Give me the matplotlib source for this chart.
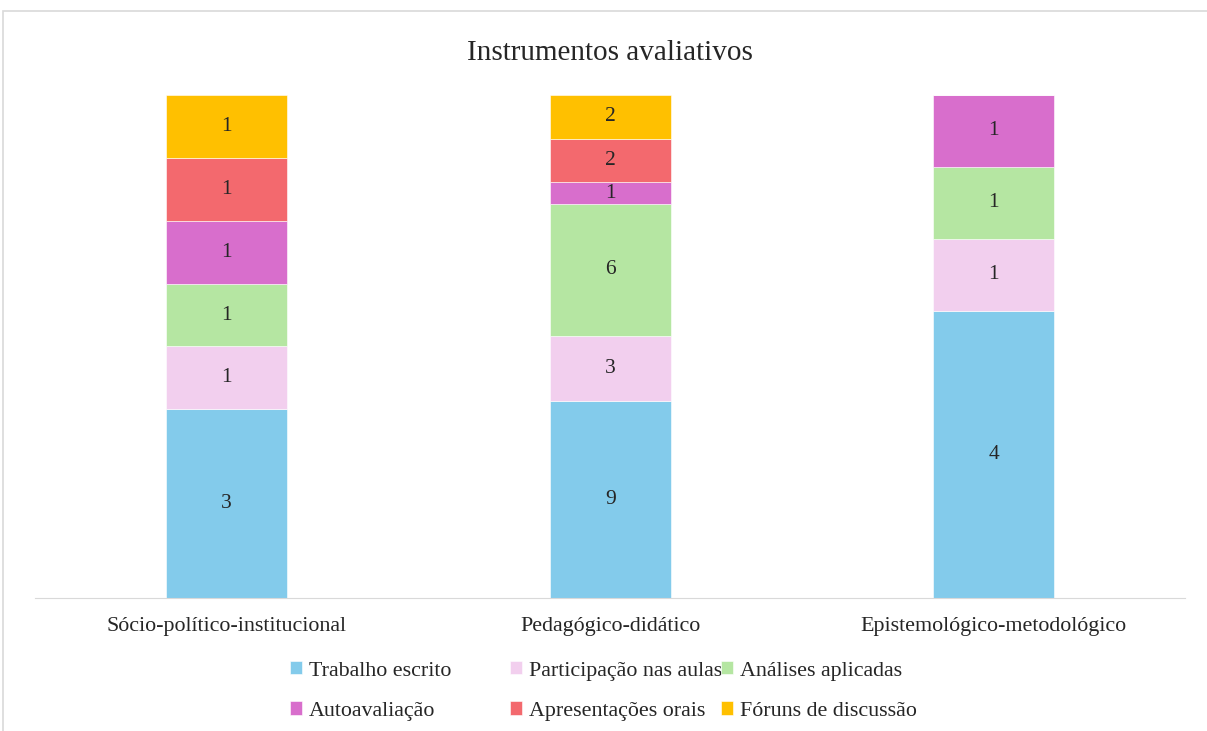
import matplotlib.pyplot as plt
from matplotlib.patches import Rectangle

plt.rcParams['font.family'] = ['Liberation Serif', 'DejaVu Serif']

categorias = ["Sócio-político-institucional", "Pedagógico-didático", "Epistemológico-metodológico"]
series = ["Trabalho escrito", "Participação nas aulas", "Análises aplicadas",
          "Autoavaliação", "Apresentações orais", "Fóruns de discussão"]
valores = [
    [3, 9, 4],
    [1, 3, 1],
    [1, 6, 1],
    [1, 1, 1],
    [1, 2, 0],
    [1, 2, 0],
]
cores = ["#83CBEB", "#F2CFEE", "#B5E6A2", "#D86ECC", "#F3696E", "#FFC000"]

totais = [sum(v[i] for v in valores) for i in range(len(categorias))]

fig = plt.figure(figsize=(12.07, 7.31), dpi=100)
ax = fig.add_axes([0.029, 0.182, 0.953, 0.688])

x = list(range(len(categorias)))
base = [0.0] * len(categorias)
handles = []
for nome, vals, cor in zip(series, valores, cores):
    frac = [v / t for v, t in zip(vals, totais)]
    barras = ax.bar(x, frac, 0.315, bottom=base, color=cor, label=nome,
                    edgecolor="white", linewidth=0.4)
    handles.append(barras)
    for xi, f, b, v in zip(x, frac, base, vals):
        if v > 0:
            ax.text(xi, b + f / 2, str(v), ha="center", va="center",
                    fontsize=15.5, color="#262626")
    base = [b + f for b, f in zip(base, frac)]

ax.set_xlim(-0.5, 2.5)
ax.set_ylim(0, 1)
ax.set_yticks([])
ax.set_xticks(x)
ax.set_xticklabels(categorias, fontsize=15.8, color="#262626")
ax.tick_params(axis="x", length=0, pad=14)
for lado in ["top", "right", "left"]:
    ax.spines[lado].set_visible(False)
ax.spines["bottom"].set_color("#D9D9D9")

fig.text(0.505, 0.928, "Instrumentos avaliativos", ha="center", va="center",
         fontsize=21, color="#262626")

# legenda em tres colunas de largura fixa, como no Excel
colunas = [(0, 3), (1, 4), (2, 5)]
xs_px = [290, 510, 721]
for (a, b), xp in zip(colunas, xs_px):
    fig.legend([handles[a], handles[b]], [series[a], series[b]],
               loc="center left", bbox_to_anchor=(xp / 1207, 1 - 691 / 731),
               frameon=False, fontsize=15.8, handlelength=0.55, handleheight=0.55,
               handletextpad=0.3, labelspacing=0.95, borderpad=0, borderaxespad=0,
               labelcolor="#262626")

fig.patches.append(Rectangle((3 / 1207, -0.01), 1.1, 1 - 11 / 731 + 0.01,
                             transform=fig.transFigure, fill=False,
                             edgecolor="#D9D9D9", linewidth=1.2))

fig.savefig("out.png", dpi=100)
